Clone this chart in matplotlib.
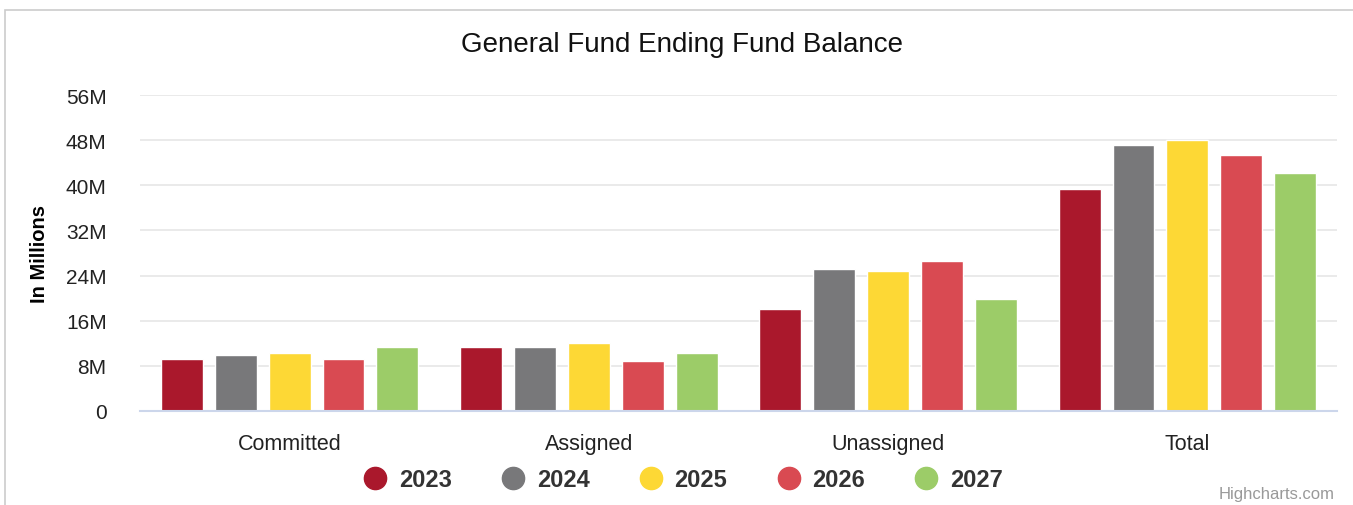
import numpy as np
import matplotlib
matplotlib.use("Agg")
import matplotlib.pyplot as plt
from matplotlib.lines import Line2D
from matplotlib.patches import Rectangle

# data (in millions)
categories = ['Committed', 'Assigned', 'Unassigned', 'Total']
years = ['2023', '2024', '2025', '2026', '2027']
v2023 = [9.2, 11.3, 18.1, 39.3]
v2024 = [9.9, 11.3, 25.1, 47.1]
v2025 = [10.3, 12.0, 24.8, 48.1]
v2026 = [9.2, 8.8, 26.5, 45.3]
v2027 = [11.3, 10.3, 19.8, 42.1]
yticks = [0, 8, 16, 24, 32, 40, 48, 56]
ytick_labels = ['0', '8M', '16M', '24M', '32M', '40M', '48M', '56M']

series = [v2023, v2024, v2025, v2026, v2027]
colors = ['#AA182C', '#78787A', '#FDD835', '#D94A52', '#9CCC68']

plt.rcParams['font.family'] = ['Liberation Sans', 'DejaVu Sans']

W, H = 1353, 506
fig = plt.figure(figsize=(W / 100, H / 100), dpi=100)
ax = fig.add_axes([140 / W, (H - 412) / H, 1197 / W, 316 / H])

# chart border
fig.patches.append(Rectangle((5 / W, -0.1), 1.2, (H - 11) / H + 0.1, transform=fig.transFigure,
                             fill=False, edgecolor='#cccccc', linewidth=1.2))

x = np.arange(len(categories))
step = 0.18
width = 0.14
for i, (vals, c) in enumerate(zip(series, colors)):
    ax.bar(x + (i - 2) * step, vals, width=width, color=c, edgecolor='white',
           linewidth=1, zorder=3)

ax.set_xlim(-0.5, len(categories) - 0.5)
ax.set_ylim(0, 56)
ax.set_yticks(yticks)
ax.set_yticklabels(ytick_labels, fontsize=15, color='#222222')
ax.set_xticks(x)
ax.set_xticklabels(categories, fontsize=15.5, color='#222222')
ax.tick_params(axis='y', length=0, pad=24)
ax.tick_params(axis='x', length=0, pad=15.5)
ax.grid(axis='y', color='#e6e6e6', linewidth=1.2, zorder=0)
for s in ['top', 'right', 'left']:
    ax.spines[s].set_visible(False)
ax.spines['bottom'].set_color('#ccd6eb')
ax.spines['bottom'].set_linewidth(1.5)
ax.spines['bottom'].set_zorder(4)

ax.set_ylabel('In Millions', fontsize=14.5, fontweight='bold')
ax.yaxis.set_label_coords(-91 / 1197, 0.5)

fig.text(682 / W, (H - 45) / H, 'General Fund Ending Fund Balance', fontsize=20,
         ha='center', va='center', color='#111111')

handles = [Line2D([], [], linestyle='none', marker='o', markersize=16,
                  markerfacecolor=c, markeredgecolor=c) for c in colors]
fig.legend(handles, years, loc='center', bbox_to_anchor=(682 / W, (H - 481) / H),
           ncol=5, frameon=False, handlelength=1.2, handletextpad=0.4, columnspacing=2.0,
           prop={'weight': 'bold', 'size': 17}, labelcolor='#333333')

fig.text(1335 / W, (H - 495) / H, 'Highcharts.com', fontsize=12, color='#999999',
         ha='right', va='center')

fig.savefig('out.png', dpi=100)
